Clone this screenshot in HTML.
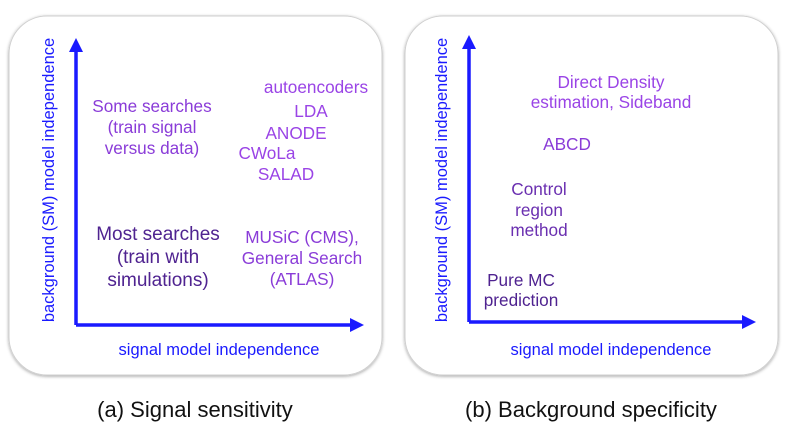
<!DOCTYPE html>
<html><head><meta charset="utf-8"><style>
html,body{margin:0;padding:0;background:#fff;}
svg{display:block;font-family:"Liberation Sans",sans-serif;}
</style></head><body>
<svg width="789" height="432" viewBox="0 0 789 432">
<defs><filter id="sh" x="-5%" y="-5%" width="110%" height="110%"><feDropShadow dx="0" dy="1" stdDeviation="1.5" flood-color="#000" flood-opacity="0.35"/></filter></defs>
<rect x="9" y="16" width="373" height="359" rx="38" fill="#fff" stroke="#cfcfcf" stroke-width="1" filter="url(#sh)"/>
<rect x="405" y="16" width="373" height="359" rx="38" fill="#fff" stroke="#cfcfcf" stroke-width="1" filter="url(#sh)"/>
<g stroke="#1a1aff" stroke-width="3.5" fill="none">
<path d="M76 325 V50 M76 325 H352"/>
<path d="M469 322 V47 M469 322 H743"/>
</g>
<g fill="#1a1aff">
<polygon points="76,38 69,52 83,52"/>
<polygon points="364,325 350,318 350,332"/>
<polygon points="469,35 462,49 476,49"/>
<polygon points="756,322 742,315 742,329"/>
</g>
<g fill="#1a1aff" font-size="16.5">
<text x="219" y="355" text-anchor="middle">signal model independence</text>
<text x="611" y="355" text-anchor="middle">signal model independence</text>
<text transform="translate(54,180) rotate(-90)" text-anchor="middle">background (SM) model independence</text>
<text transform="translate(447,180) rotate(-90)" text-anchor="middle">background (SM) model independence</text>
</g>
<g font-size="17.2" text-anchor="middle">
<g fill="#9a44e6">
<text x="316" y="93">autoencoders</text>
<text x="311" y="117">LDA</text>
<text x="296" y="139">ANODE</text>
<text x="267" y="159">CWoLa</text>
<text x="286" y="180">SALAD</text>
<text x="611" y="88">Direct Density</text>
<text x="611" y="108">estimation, Sideband</text>
</g>
<g fill="#8a3cd8">
<text x="152" y="112">Some searches</text>
<text x="152" y="133">(train signal</text>
<text x="152" y="154">versus data)</text>
<text x="302" y="243">MUSiC (CMS),</text>
<text x="302" y="264">General Search</text>
<text x="302" y="285">(ATLAS)</text>
<text x="567" y="150">ABCD</text>
</g>
<g fill="#6a2fb0">
<text x="539" y="195">Control</text>
<text x="539" y="216">region</text>
<text x="539" y="236">method</text>
</g>
<g fill="#4f2390" font-size="19">
<text x="158" y="240">Most searches</text>
<text x="158" y="263">(train with</text>
<text x="158" y="286">simulations)</text>
<text x="521" y="286" font-size="17.2">Pure MC</text>
<text x="521" y="306" font-size="17.2">prediction</text>
</g>
</g>
<g fill="#111" font-size="22" text-anchor="middle">
<text x="195" y="417">(a) Signal sensitivity</text>
<text x="591" y="417">(b) Background specificity</text>
</g>
</svg>
</body></html>
